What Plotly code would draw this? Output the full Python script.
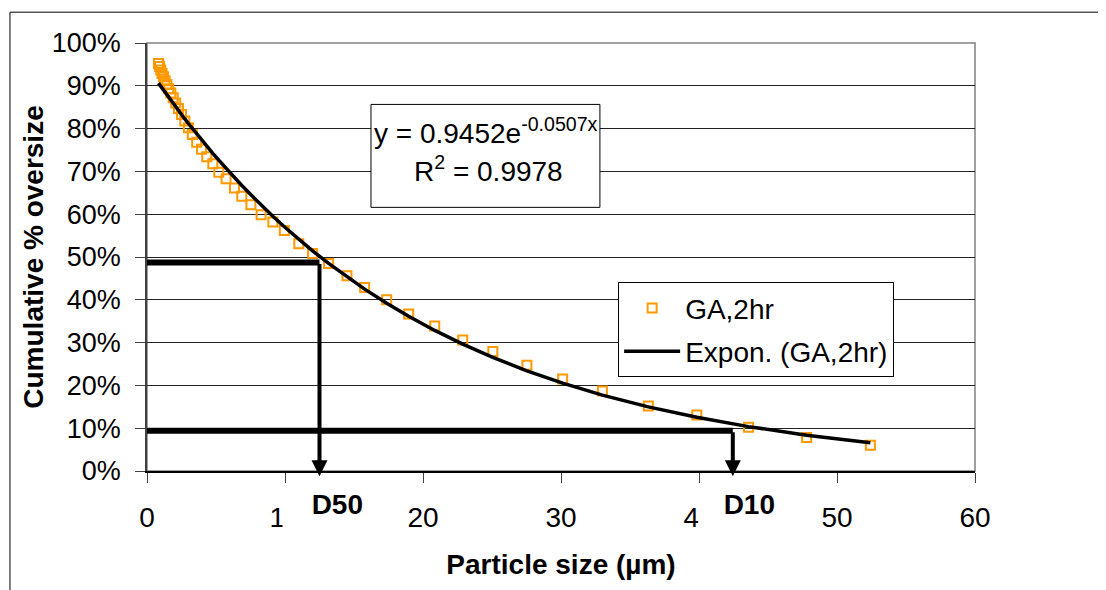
import numpy as np
import plotly.graph_objects as go

# ---- data ----
size_um = [0.83, 0.91, 1.00, 1.09, 1.20, 1.31, 1.44, 1.58, 1.73, 1.90, 2.08, 2.28,
           2.50, 2.74, 3.00, 3.29, 3.60, 3.95, 4.33, 4.77, 5.20, 5.73, 6.34, 6.87,
           7.53, 8.27, 9.12, 9.95, 11.0, 12.0, 13.16, 14.49, 15.77, 17.37, 18.96,
           20.85, 22.88, 25.06, 27.53, 30.12, 33.0, 36.33, 39.84, 43.59, 47.8, 52.42]
oversize = [0.952, 0.945, 0.937, 0.929, 0.921, 0.912, 0.903, 0.893, 0.883, 0.872,
            0.860, 0.847, 0.833, 0.818, 0.802, 0.786, 0.768, 0.752, 0.734, 0.718,
            0.698, 0.683, 0.661, 0.642, 0.622, 0.599, 0.582, 0.562, 0.531, 0.508,
            0.485, 0.456, 0.429, 0.400, 0.367, 0.339, 0.306, 0.279, 0.247, 0.215,
            0.187, 0.152, 0.131, 0.102, 0.078, 0.060]

# displayed exponential trendline y = a*exp(b*x)
trend_a = 0.9452
trend_b = -0.0507
r_squared = 0.9978

# D50 / D10 markers (size, level)
d50_size, d50_level = 12.5, 0.487
d10_size, d10_level = 42.45, 0.094
arrow_tip = -0.012

x_ticks = [0, 10, 20, 30, 40, 50, 60]
y_ticks = [0, 0.1, 0.2, 0.3, 0.4, 0.5, 0.6, 0.7, 0.8, 0.9, 1.0]

FONT = "Liberation Sans, Arial, sans-serif"
ORANGE = "#FF9900"

trend_y = trend_a * np.exp(trend_b * np.array(size_um))

fig = go.Figure()
fig.add_trace(go.Scatter(
    x=size_um, y=oversize, mode="markers", name="GA,2hr",
    legendgroup="a",
    marker=dict(symbol="square-open", size=9, color=ORANGE, line=dict(width=2, color=ORANGE)),
))
fig.add_trace(go.Scatter(
    x=size_um, y=trend_y, mode="lines", name="Expon. (GA,2hr)",
    legendgroup="b",
    line=dict(color="black", width=3.5),
))

shapes = [
    # outer chart border (cropped on right/bottom)
    dict(type="rect", xref="paper", yref="paper", x0=-0.1655, x1=1.2, y0=-0.4, y1=1.072,
         line=dict(color="black", width=1), fillcolor="rgba(0,0,0,0)", layer="below"),
    # plot area border
    dict(type="rect", xref="paper", yref="paper", x0=0, x1=1, y0=0, y1=1,
         line=dict(color="#808080", width=1.5), fillcolor="rgba(0,0,0,0)", layer="below"),
    # D50 / D10 horizontal guides
    dict(type="line", xref="x", yref="y", x0=0, x1=d50_size, y0=d50_level, y1=d50_level,
         line=dict(color="black", width=6)),
    dict(type="line", xref="x", yref="y", x0=0, x1=d10_size, y0=d10_level, y1=d10_level,
         line=dict(color="black", width=6)),
]

annotations = []
for sx, lv, label, shift, w in [(d50_size, d50_level, "D50", 3, 80),
                                 (d10_size, d10_level, "D10", 4, 76)]:
    annotations.append(dict(
        x=sx, y=arrow_tip, xref="x", yref="y", ax=sx, ay=lv, axref="x", ayref="y",
        text="", showarrow=True, arrowhead=2, arrowwidth=4, arrowsize=0.8,
        arrowcolor="black"))
    annotations.append(dict(
        x=sx, y=-0.040, xref="x", yref="paper", xanchor="center", yanchor="top",
        xshift=shift, text=label, showarrow=False, width=w, height=46,
        align="right", valign="top", bgcolor="white", borderpad=0,
        font=dict(family=FONT, size=28, color="black", weight="bold")))

# equation box
shapes.append(dict(type="rect", xref="paper", yref="paper",
                   x0=0.2705, x1=0.5470, y0=0.616, y1=0.8565,
                   line=dict(color="black", width=1), fillcolor="white"))
annotations.append(dict(
    x=0.409, y=0.795, xref="paper", yref="paper", showarrow=False,
    xanchor="center", yanchor="middle",
    text="y = %.4fe<sup>%.4fx</sup>" % (trend_a, trend_b),
    font=dict(family=FONT, size=28, color="black")))
annotations.append(dict(
    x=0.412, y=0.705, xref="paper", yref="paper", showarrow=False,
    xanchor="center", yanchor="middle",
    text="R<sup>2</sup> = %.4f" % r_squared,
    font=dict(family=FONT, size=28, color="black")))

# page body adds an 8px offset, so the figure is 8px smaller and margins shifted
fig.update_layout(
    width=1098, height=582, autosize=False,
    margin=dict(l=139, r=131, t=35, b=119, autoexpand=False),
    paper_bgcolor="white", plot_bgcolor="white",
    font=dict(family=FONT, size=27, color="black"),
    showlegend=True,
    legend=dict(x=0.569, y=0.441, xanchor="left", yanchor="top",
                bgcolor="white", bordercolor="black", borderwidth=1,
                font=dict(family=FONT, size=28, color="black"),
                traceorder="grouped", tracegroupgap=4, itemwidth=56),
    shapes=shapes,
    annotations=annotations,
    xaxis=dict(range=[0, 60], tickvals=x_ticks, ticks="outside", ticklen=10,
               tickcolor="#404040", showgrid=False, zeroline=False,
               showline=True, linecolor="black", linewidth=1.5,
               ticklabelstandoff=11, automargin=False,
               tickfont=dict(family=FONT, size=28, color="black"),
               title=dict(text="Particle size (µm)", standoff=22,
                          font=dict(family=FONT, size=28, color="black", weight="bold"))),
    yaxis=dict(range=[0, 1], tickvals=y_ticks, tickformat=".0%", ticks="outside",
               ticklen=10, tickcolor="#404040", showgrid=True, gridcolor="#222222",
               gridwidth=1, zeroline=False, showline=True, linecolor="#404040",
               linewidth=1.5, ticklabelstandoff=9, automargin=False,
               tickfont=dict(family=FONT, size=27, color="black"),
               title=dict(text="Cumulative % oversize", standoff=0,
                          font=dict(family=FONT, size=28, color="black", weight="bold"))),
)

fig.write_html("out.html")
